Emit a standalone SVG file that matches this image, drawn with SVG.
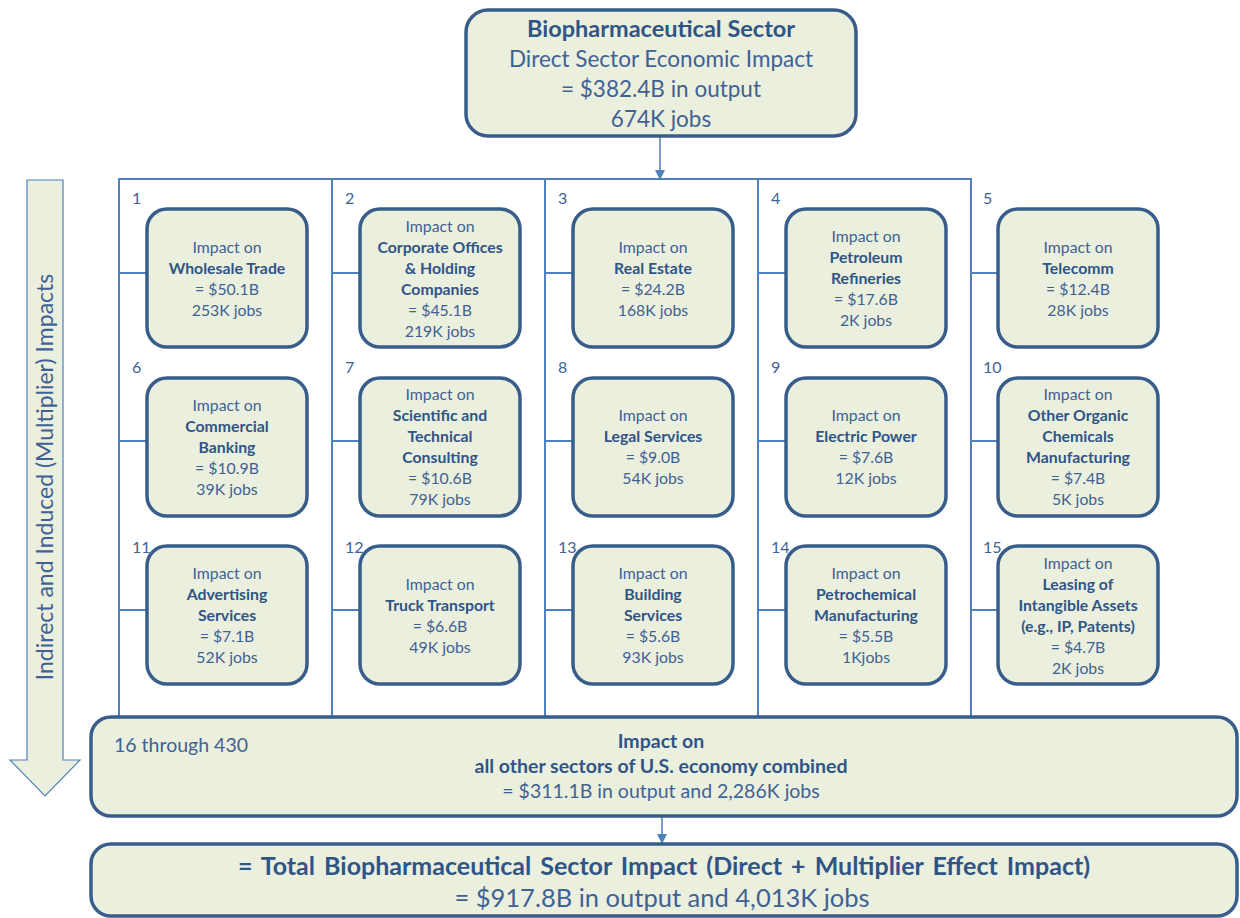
<svg xmlns="http://www.w3.org/2000/svg" width="1240" height="918" viewBox="0 0 1240 918">
<style>
.box{fill:#EBEFDE;stroke:#385D8A;stroke-width:3.5}
.grid{fill:none;stroke:#4F81BD;stroke-width:2}
.t{font-family:Lato,"Liberation Sans",sans-serif;fill:#3E6294;text-anchor:middle}
.n{font-size:15.8px}
.b{font-weight:bold;fill:#2F5587}
.num{font-family:Lato,"Liberation Sans",sans-serif;fill:#3E6294;font-size:16px}
</style>
<defs>
<marker id="ah" markerWidth="10" markerHeight="10" refX="9" refY="5" orient="auto" markerUnits="userSpaceOnUse">
<path d="M0,0 L10,5 L0,10 z" fill="#4F81BD"/>
</marker>
</defs>
<rect width="1240" height="918" fill="#FFFFFF"/>

<g id="side-arrow">
<path d="M27,180 L63,180 L63,760 L80,760 L45,796 L10,760 L27,760 Z" fill="#EBEFDE" stroke="#4F81BD" stroke-width="1.2"/>
<text class="t" font-size="23" transform="translate(53,477) rotate(-90)">Indirect and Induced (Multiplier) Impacts</text>
</g>

<g id="connectors">
<path class="grid" d="M119,716 L119,179 L971,179 L971,716 M332,179 L332,716 M545,179 L545,716 M758,179 L758,716"/>
<path class="grid" d="M119,273 H147 M332,273 H360 M545,273 H573 M758,273 H786 M971,273 H998"/>
<path class="grid" d="M119,441 H147 M332,441 H360 M545,441 H573 M758,441 H786 M971,441 H998"/>
<path class="grid" d="M119,610 H147 M332,610 H360 M545,610 H573 M758,610 H786 M971,610 H998"/>
<line x1="660" y1="137" x2="660" y2="179" stroke="#4F81BD" stroke-width="1.5" marker-end="url(#ah)"/>
<line x1="662" y1="817" x2="662" y2="843" stroke="#4F81BD" stroke-width="1.5" marker-end="url(#ah)"/>
</g>

<g id="top">
<rect class="box" x="466" y="10" width="390" height="126" rx="22"/>
<text class="t b" font-size="23.5" x="661" y="37">Biopharmaceutical Sector</text>
<text class="t" font-size="22.5" x="661" y="67">Direct Sector Economic Impact</text>
<text class="t" font-size="22.5" x="661" y="97">= $382.4B in output</text>
<text class="t" font-size="22.5" x="661" y="127">674K jobs</text>
</g>

<g id="labels">
<text class="num" x="132" y="204">1</text>
<text class="num" x="345" y="204">2</text>
<text class="num" x="558" y="204">3</text>
<text class="num" x="771" y="204">4</text>
<text class="num" x="983" y="204">5</text>
<text class="num" x="132" y="373">6</text>
<text class="num" x="345" y="373">7</text>
<text class="num" x="558" y="373">8</text>
<text class="num" x="771" y="373">9</text>
<text class="num" x="983" y="373">10</text>
<text class="num" x="132" y="553">11</text>
<text class="num" x="345" y="553">12</text>
<text class="num" x="558" y="553">13</text>
<text class="num" x="771" y="553">14</text>
<text class="num" x="983" y="553">15</text>
</g>

<g id="n1"><rect class="box" x="147" y="209" width="160" height="138" rx="20"/>
<text class="t n" x="227" y="253">Impact on</text><text class="t n b" x="227" y="274">Wholesale Trade</text><text class="t n" x="227" y="295">= $50.1B</text><text class="t n" x="227" y="316">253K jobs</text></g>

<g id="n2"><rect class="box" x="360" y="209" width="160" height="138" rx="20"/>
<text class="t n" x="440" y="232">Impact on</text><text class="t n b" x="440" y="253">Corporate Offices</text><text class="t n b" x="440" y="274">&amp; Holding</text><text class="t n b" x="440" y="295">Companies</text><text class="t n" x="440" y="316">= $45.1B</text><text class="t n" x="440" y="337">219K jobs</text></g>

<g id="n3"><rect class="box" x="573" y="209" width="160" height="138" rx="20"/>
<text class="t n" x="653" y="253">Impact on</text><text class="t n b" x="653" y="274">Real Estate</text><text class="t n" x="653" y="295">= $24.2B</text><text class="t n" x="653" y="316">168K jobs</text></g>

<g id="n4"><rect class="box" x="786" y="209" width="160" height="138" rx="20"/>
<text class="t n" x="866" y="242">Impact on</text><text class="t n b" x="866" y="263">Petroleum</text><text class="t n b" x="866" y="284">Refineries</text><text class="t n" x="866" y="305">= $17.6B</text><text class="t n" x="866" y="326">2K jobs</text></g>

<g id="n5"><rect class="box" x="998" y="209" width="160" height="138" rx="20"/>
<text class="t n" x="1078" y="253">Impact on</text><text class="t n b" x="1078" y="274">Telecomm</text><text class="t n" x="1078" y="295">= $12.4B</text><text class="t n" x="1078" y="316">28K jobs</text></g>

<g id="n6"><rect class="box" x="147" y="378" width="160" height="138" rx="20"/>
<text class="t n" x="227" y="411">Impact on</text><text class="t n b" x="227" y="432">Commercial</text><text class="t n b" x="227" y="453">Banking</text><text class="t n" x="227" y="474">= $10.9B</text><text class="t n" x="227" y="495">39K jobs</text></g>

<g id="n7"><rect class="box" x="360" y="378" width="160" height="138" rx="20"/>
<text class="t n" x="440" y="400">Impact on</text><text class="t n b" x="440" y="421">Scientific and</text><text class="t n b" x="440" y="442">Technical</text><text class="t n b" x="440" y="463">Consulting</text><text class="t n" x="440" y="484">= $10.6B</text><text class="t n" x="440" y="505">79K jobs</text></g>

<g id="n8"><rect class="box" x="573" y="378" width="160" height="138" rx="20"/>
<text class="t n" x="653" y="421">Impact on</text><text class="t n b" x="653" y="442">Legal Services</text><text class="t n" x="653" y="463">= $9.0B</text><text class="t n" x="653" y="484">54K jobs</text></g>

<g id="n9"><rect class="box" x="786" y="378" width="160" height="138" rx="20"/>
<text class="t n" x="866" y="421">Impact on</text><text class="t n b" x="866" y="442">Electric Power</text><text class="t n" x="866" y="463">= $7.6B</text><text class="t n" x="866" y="484">12K jobs</text></g>

<g id="n10"><rect class="box" x="998" y="378" width="160" height="138" rx="20"/>
<text class="t n" x="1078" y="400">Impact on</text><text class="t n b" x="1078" y="421">Other Organic</text><text class="t n b" x="1078" y="442">Chemicals</text><text class="t n b" x="1078" y="463">Manufacturing</text><text class="t n" x="1078" y="484">= $7.4B</text><text class="t n" x="1078" y="505">5K jobs</text></g>

<g id="n11"><rect class="box" x="147" y="546" width="160" height="138" rx="20"/>
<text class="t n" x="227" y="579">Impact on</text><text class="t n b" x="227" y="600">Advertising</text><text class="t n b" x="227" y="621">Services</text><text class="t n" x="227" y="642">= $7.1B</text><text class="t n" x="227" y="663">52K jobs</text></g>

<g id="n12"><rect class="box" x="360" y="546" width="160" height="138" rx="20"/>
<text class="t n" x="440" y="590">Impact on</text><text class="t n b" x="440" y="611">Truck Transport</text><text class="t n" x="440" y="632">= $6.6B</text><text class="t n" x="440" y="653">49K jobs</text></g>

<g id="n13"><rect class="box" x="573" y="546" width="160" height="138" rx="20"/>
<text class="t n" x="653" y="579">Impact on</text><text class="t n b" x="653" y="600">Building</text><text class="t n b" x="653" y="621">Services</text><text class="t n" x="653" y="642">= $5.6B</text><text class="t n" x="653" y="663">93K jobs</text></g>

<g id="n14"><rect class="box" x="786" y="546" width="160" height="138" rx="20"/>
<text class="t n" x="866" y="579">Impact on</text><text class="t n b" x="866" y="600">Petrochemical</text><text class="t n b" x="866" y="621">Manufacturing</text><text class="t n" x="866" y="642">= $5.5B</text><text class="t n" x="866" y="663">1Kjobs</text></g>

<g id="n15"><rect class="box" x="998" y="546" width="160" height="138" rx="20"/>
<text class="t n" x="1078" y="569">Impact on</text><text class="t n b" x="1078" y="590">Leasing of</text><text class="t n b" x="1078" y="611">Intangible Assets</text><text class="t n b" x="1078" y="632">(e.g., IP, Patents)</text><text class="t n" x="1078" y="653">= $4.7B</text><text class="t n" x="1078" y="674">2K jobs</text></g>

<g id="others">
<rect class="box" x="91" y="717" width="1146" height="99" rx="20"/>
<text class="num" style="font-size:19.5px" x="114" y="752">16 through 430</text>
<text class="t b" font-size="19.5" x="661" y="748">Impact on</text>
<text class="t b" font-size="19.5" x="661" y="773">all other sectors of U.S. economy combined</text>
<text class="t" font-size="19.5" x="661" y="798">= $311.1B in output  and 2,286K jobs</text>
</g>

<g id="total">
<rect class="box" x="91" y="844" width="1146" height="72" rx="20"/>
<text class="t b" font-size="25" x="664" y="875" word-spacing="3">= Total Biopharmaceutical Sector Impact (Direct + Multiplier Effect Impact)</text>
<text class="t" font-size="25.5" x="662" y="907">= $917.8B in output and 4,013K jobs</text>
</g>
</svg>
